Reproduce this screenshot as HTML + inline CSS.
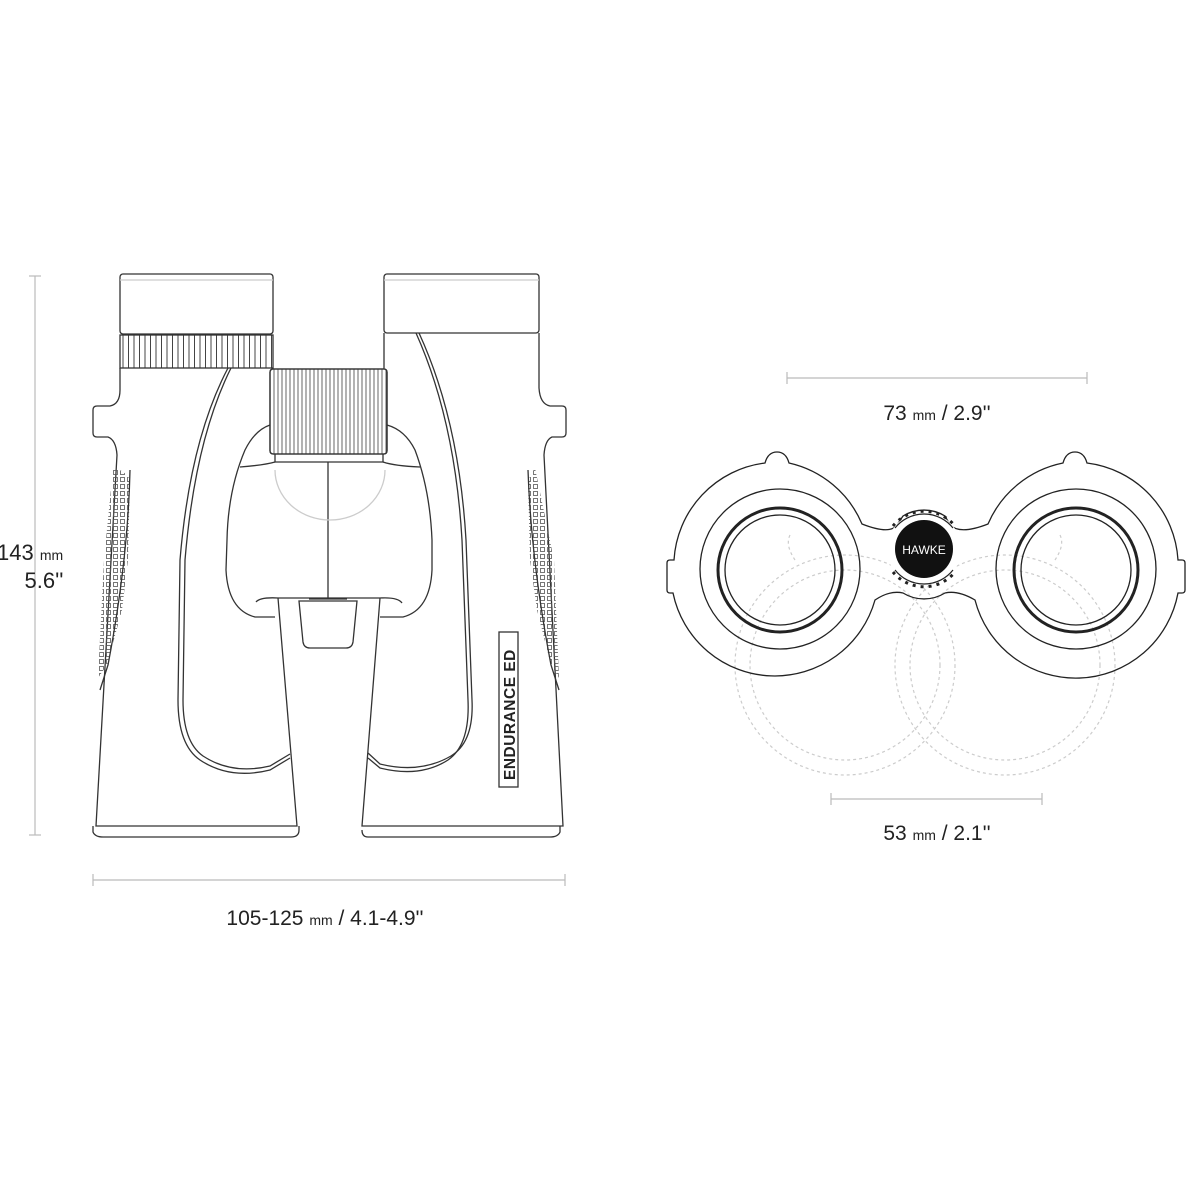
<!DOCTYPE html>
<html><head><meta charset="utf-8"><style>
html,body{margin:0;padding:0;background:#fff;}
svg{display:block;}
text{font-family:"Liberation Sans",sans-serif;fill:#222;}
</style></head><body>
<svg width="1200" height="1200" viewBox="0 0 1200 1200" xmlns="http://www.w3.org/2000/svg">
<defs>
<pattern id="dots" width="7" height="7" patternUnits="userSpaceOnUse">
<rect x="1.5" y="1.5" width="4" height="4" fill="none" stroke="#555" stroke-width="0.8"/>
</pattern>
<pattern id="knurl" width="5.5" height="10" patternUnits="userSpaceOnUse">
<line x1="2" y1="0" x2="2" y2="10" stroke="#444" stroke-width="1"/>
</pattern>
<pattern id="knurl2" width="4" height="10" patternUnits="userSpaceOnUse">
<line x1="2" y1="0" x2="2" y2="10" stroke="#555" stroke-width="0.9"/>
</pattern>
</defs>
<g fill="none" stroke="#333" stroke-width="1.3">
<g stroke="#bbb" stroke-width="1.2">
<line x1="35" y1="276" x2="35" y2="835"/><line x1="29" y1="276" x2="41" y2="276"/><line x1="29" y1="835" x2="41" y2="835"/>
<line x1="93" y1="880" x2="565" y2="880"/><line x1="93" y1="874" x2="93" y2="886"/><line x1="565" y1="874" x2="565" y2="886"/>
<line x1="787" y1="378" x2="1087" y2="378"/><line x1="787" y1="372" x2="787" y2="384"/><line x1="1087" y1="372" x2="1087" y2="384"/>
<line x1="831" y1="799" x2="1042" y2="799"/><line x1="831" y1="793" x2="831" y2="805"/><line x1="1042" y1="793" x2="1042" y2="805"/>
</g>
<rect x="120" y="274" width="153" height="60" rx="3"/>
<line x1="120" y1="280" x2="273" y2="280" stroke="#ccc"/>
<rect x="120" y="335" width="153" height="33" fill="url(#knurl)"/>
<rect x="384" y="274" width="155" height="59" rx="3"/>
<line x1="384" y1="280" x2="539" y2="280" stroke="#ccc"/>
<path d="M120 368 L120 390 Q120 404 110 406 L97 406 Q93 406 93 410 L93 433 Q93 437 97 437 L108 437 Q116 440 117 455 L96 826 L297 826 L278 598"/>
<path d="M93 826 L93 832 Q95 837 103 837 L291 837 Q299 837 299 830 L299 826"/>
<path d="M539 333 L539 388 Q540 404 550 406 L562 406 Q566 406 566 410 L566 433 Q566 437 562 437 L552 437 Q545 440 544 455 L563 826 L362 826 L380 598"/>
<path d="M560 826 L560 832 Q558 837 550 837 L368 837 Q362 837 362 830"/>
<line x1="384" y1="333" x2="384" y2="369"/>
<path d="M228 368 Q190 440 180 560 L178 700 Q178 745 200 760 Q230 780 270 770 L290 758"/>
<path d="M231 368 Q195 440 185 560 L183 700 Q183 742 203 756 Q232 775 270 766 L290 754"/>
<path d="M416 333 Q455 420 462 540 L468 700 Q470 745 448 760 Q420 778 380 768 L368 758"/>
<path d="M419 333 Q459 420 466 540 L472 700 Q474 742 451 756 Q420 774 380 764 L368 753"/>
<path d="M113 468 Q125 470 130 480 L128 560 L122 610 L107 665 L98 678 L104 560 Z" fill="url(#dots)" stroke="none"/>
<path d="M535 468 Q530 475 528 482 L530 560 L537 610 L551 665 L559 678 L554 560 Z" fill="url(#dots)" stroke="none"/>
<path d="M130 470 Q128 560 108 665 L100 690"/>
<path d="M528 470 Q531 560 551 665 L559 690"/>
<rect x="270" y="369" width="117" height="85" rx="3" fill="url(#knurl2)"/>
<rect x="270" y="369" width="117" height="85" rx="3"/>
<path d="M275 454 L275 462 L383 462 L383 454"/>
<path d="M270 425 Q255 430 245 450 Q228 490 227 540 L226 570 Q228 610 255 617 L275 617"/>
<path d="M387 425 Q405 430 415 450 Q430 490 432 540 L432 570 Q430 610 403 617 L380 617"/>
<path d="M240 467 Q265 465 275 462 M383 462 Q395 466 420 467"/>
<path d="M256 602 Q260 597 278 598 L380 598 Q398 597 402 603"/>
<line x1="328" y1="462" x2="328" y2="598"/>
<path d="M275 470 A55 50 0 0 0 385 470" stroke="#ccc"/>
<path d="M299 601 L357 601 L353 642 Q352 648 346 648 L310 648 Q304 648 303 642 Z"/>
<line x1="309" y1="599" x2="347" y2="599"/>
<rect x="499" y="632" width="19" height="155"/>
</g>
<text transform="translate(515,780) rotate(-90)" font-size="15.5" font-weight="bold" style="letter-spacing:0.5px">ENDURANCE ED</text>

<g fill="none" stroke="#ccc" stroke-width="1.2" stroke-dasharray="3 3">
<circle cx="845" cy="665" r="95"/>
<circle cx="1005" cy="665" r="95"/>
<circle cx="845" cy="665" r="110"/>
<circle cx="1005" cy="665" r="110"/>
<path d="M790 535 Q785 545 795 560 M1060 535 Q1065 545 1055 560"/>
</g>
<g fill="none" stroke="#222" stroke-width="1.3">
<path d="M765 463 Q768 452 777 452 Q786 452 789 463 A104 104 0 0 1 862 524 Q890 535 897 525 L903 516 A40 40 0 0 1 945 516 L950 525 Q960 535 988 524 A104 104 0 0 1 1063 463 Q1066 452 1075 452 Q1084 452 1087 463 A104 104 0 0 1 1178 560 L1182 560 Q1185 560 1185 563 L1185 590 Q1185 593 1182 593 L1178 593 A104 104 0 0 1 975 600 Q958 590 945 593 A40 40 0 0 1 903 593 Q890 590 875 600 A104 104 0 0 1 673 593 L670 593 Q667 593 667 590 L667 563 Q667 560 670 560 L674 560 A104 104 0 0 1 765 463 Z"/>
<circle cx="780" cy="569" r="80"/>
<circle cx="1076" cy="569" r="80"/>
<circle cx="780" cy="570" r="62" stroke-width="3"/>
<circle cx="1076" cy="570" r="62" stroke-width="3"/>
<circle cx="780" cy="570" r="55"/>
<circle cx="1076" cy="570" r="55"/>
</g>
<circle cx="924" cy="549" r="37" fill="#fff" stroke="none"/>
<path d="M895 528 A37 37 0 0 1 953 528 M895 570 A37 37 0 0 0 953 570" fill="none" stroke="#222" stroke-width="1.2"/>
<path d="M893 526 A40 40 0 0 1 955 526 M893 572 A40 40 0 0 0 955 572" fill="none" stroke="#222" stroke-width="3" stroke-dasharray="3 5"/>
<circle cx="924" cy="549" r="29" fill="#111"/>
<text x="924" y="554" font-size="12" style="fill:#fff" text-anchor="middle">HAWKE</text>

<text x="-3" y="560" font-size="22">143 <tspan font-size="14">mm</tspan></text>
<text x="44" y="588" font-size="22" text-anchor="middle">5.6''</text>
<text x="325" y="925" font-size="21" text-anchor="middle">105-125 <tspan font-size="14">mm</tspan> / 4.1-4.9''</text>
<text x="937" y="420" font-size="21" text-anchor="middle">73 <tspan font-size="14">mm</tspan> / 2.9''</text>
<text x="937" y="840" font-size="21" text-anchor="middle">53 <tspan font-size="14">mm</tspan> / 2.1''</text>
</svg>
</body></html>
